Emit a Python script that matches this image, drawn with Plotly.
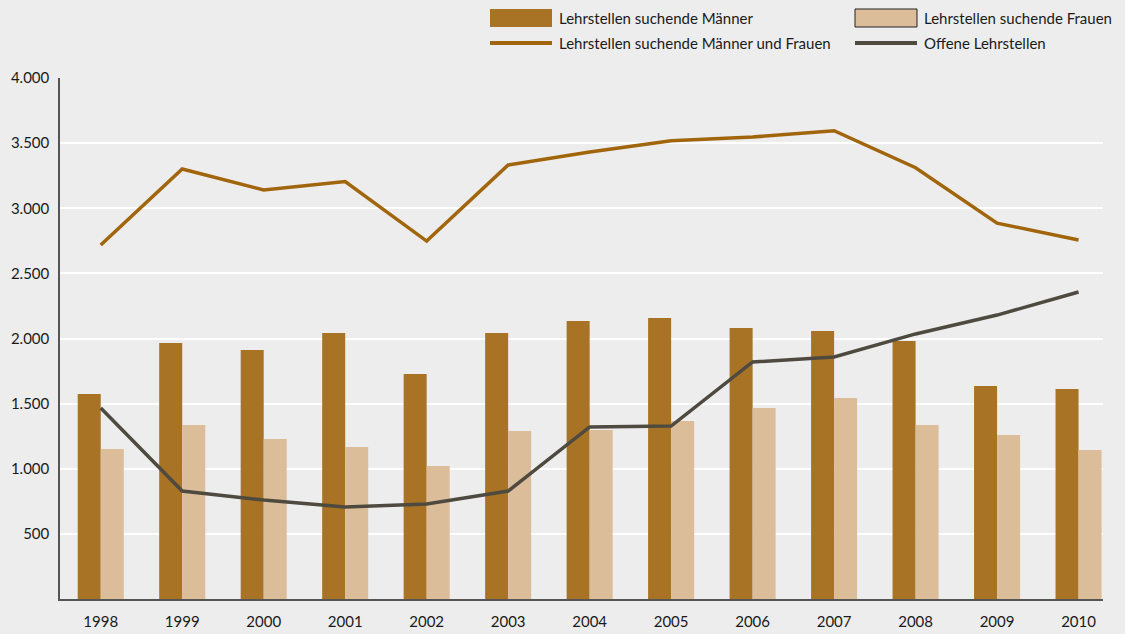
import plotly.graph_objects as go

years = ["1998", "1999", "2000", "2001", "2002", "2003", "2004",
         "2005", "2006", "2007", "2008", "2009", "2010"]
maenner = [1574, 1965, 1912, 2042, 1727, 2042, 2134, 2157, 2081, 2058, 1981, 1635, 1612]
frauen = [1152, 1336, 1228, 1167, 1021, 1290, 1297, 1367, 1466, 1543, 1336, 1259, 1144]
gesamt = [2718, 3301, 3140, 3205, 2748, 3332, 3432, 3518, 3547, 3595, 3311, 2886, 2756]
offene = [1466, 829, 760, 706, 729, 829, 1321, 1328, 1820, 1858, 2035, 2180, 2357]
y_ticks = [500, 1000, 1500, 2000, 2500, 3000, 3500, 4000]

C_MAENNER = "#A87324"
C_FRAUEN = "#DBBD9A"
C_GESAMT = "#A1660C"
C_OFFENE = "#4F4A40"
FONT = "Lato"

fig = go.Figure()

fig.add_trace(go.Bar(x=years, y=maenner, name="Lehrstellen suchende Männer",
                     marker=dict(color=C_MAENNER, line=dict(width=0)), offsetgroup="m"))
fig.add_trace(go.Bar(x=years, y=frauen, name="Lehrstellen suchende Frauen",
                     marker=dict(color=C_FRAUEN, line=dict(width=0)), offsetgroup="f"))
fig.add_trace(go.Scatter(x=years, y=gesamt, mode="lines", name="Lehrstellen suchende Männer und Frauen",
                         line=dict(color=C_GESAMT, width=3.5)))
fig.add_trace(go.Scatter(x=years, y=offene, mode="lines", name="Offene Lehrstellen",
                         line=dict(color=C_OFFENE, width=3.5)))

# eigene Legende oben rechts (Pixel -> paper)
W, H = 1125, 634
ML, MR, MT, MB = 60, 22, 78, 35
pw, ph = W - ML - MR, H - MT - MB


def px(x):
    return (x - ML) / pw


def py(y):
    return (H - MB - y) / ph


legend_items = [
    ("box", C_MAENNER, None, 490, 18, "Lehrstellen suchende Männer"),
    ("box", C_FRAUEN, "#222222", 855, 18, "Lehrstellen suchende Frauen"),
    ("line", C_GESAMT, None, 490, 43, "Lehrstellen suchende Männer und Frauen"),
    ("line", C_OFFENE, None, 855, 43, "Offene Lehrstellen"),
]
shapes = []
annotations = []
for kind, col, border, x0, yc, label in legend_items:
    if kind == "box":
        shapes.append(dict(type="rect", xref="paper", yref="paper",
                           x0=px(x0), x1=px(x0 + 62), y0=py(yc + 9), y1=py(yc - 9),
                           fillcolor=col,
                           line=dict(color=border or col, width=1 if border else 0)))
    else:
        shapes.append(dict(type="line", xref="paper", yref="paper",
                           x0=px(x0), x1=px(x0 + 62), y0=py(yc), y1=py(yc),
                           line=dict(color=col, width=4)))
    annotations.append(dict(xref="paper", yref="paper", x=px(x0 + 67), y=py(yc),
                            text=label, showarrow=False, xanchor="left", yanchor="middle",
                            font=dict(family=FONT, size=15, color="#1a1a1a")))

fig.update_layout(
    width=W, height=H,
    margin=dict(l=ML, r=MR, t=MT, b=MB),
    paper_bgcolor="#EDEDED",
    plot_bgcolor="#EDEDED",
    barmode="group",
    bargap=0.435,
    bargroupgap=0,
    showlegend=False,
    separators=",.",
    font=dict(family=FONT, size=15, color="#1a1a1a"),
    shapes=shapes,
    annotations=annotations,
)
fig.update_xaxes(type="category", range=[-0.5, 12.3], showgrid=False, automargin=False,
                 showline=True, linecolor="#555555", linewidth=1.5,
                 ticks="", tickfont=dict(size=15), ticklabelstandoff=8)
fig.update_yaxes(range=[0, 4000], tickvals=y_ticks, tickformat=",d", automargin=False,
                 showgrid=True, gridcolor="#FFFFFF", gridwidth=1.5,
                 showline=True, linecolor="#555555", linewidth=1.5,
                 zeroline=False, ticks="", tickfont=dict(size=15), ticklabelstandoff=6)

fig.write_html("out.html", config={"displayModeBar": False},
               post_script="document.body.style.margin='0';document.body.style.background='#EDEDED';")
